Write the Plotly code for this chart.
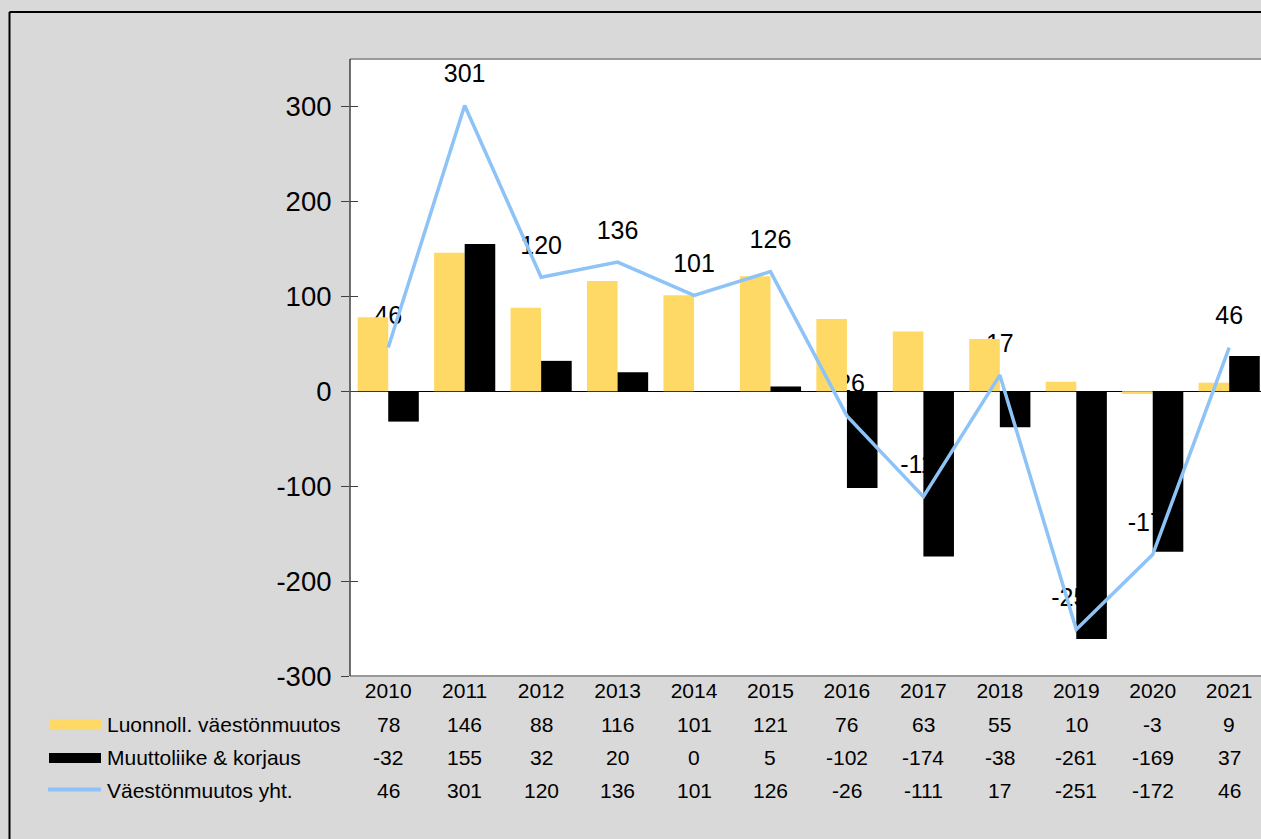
import plotly.graph_objects as go

years = ["2010", "2011", "2012", "2013", "2014", "2015", "2016", "2017", "2018", "2019", "2020", "2021"]
luonnoll = [78, 146, 88, 116, 101, 121, 76, 63, 55, 10, -3, 9]
muutto = [-32, 155, 32, 20, 0, 5, -102, -174, -38, -261, -169, 37]
yht = [46, 301, 120, 136, 101, 126, -26, -111, 17, -251, -172, 46]
series_names = ["Luonnoll. väestönmuutos", "Muuttoliike & korjaus", "Väestönmuutos yht."]
ytick_vals = [-300, -200, -100, 0, 100, 200, 300]
ytick_text = ["-300", "-200", "-100", "0", "100", "200", "300"]

YELLOW = "#FFD966"
BLACK = "#000000"
BLUE = "#8DC3F7"
BG = "#D9D9D9"
FONT = "Liberation Sans, Arial, sans-serif"

W, H = 1300, 839
ML, MR, MT, MB = 350, 0, 59, 163
PW = W - ML - MR
PH = H - MT - MB
CAT_STEP = 76.45  # pixel spacing of categories in the reference


def px_x(p):
    return (p - ML) / PW


def px_y(p):
    return (H - MB - p) / PH


fig = go.Figure()

# data labels of the total line, drawn underneath the bars (base subplot)
fig.add_trace(go.Scatter(
    x=years, y=yht, mode="markers+text", text=[str(v) for v in yht],
    textposition="top center", textfont=dict(size=25, color="black", family=FONT),
    marker=dict(size=26, color="rgba(0,0,0,0)"), hoverinfo="skip", showlegend=False,
    xaxis="x", yaxis="y"))

fig.add_trace(go.Bar(x=years, y=luonnoll, name=series_names[0], marker=dict(color=YELLOW, line=dict(width=0)),
                     xaxis="x2", yaxis="y2", showlegend=False))
fig.add_trace(go.Bar(x=years, y=muutto, name=series_names[1], marker=dict(color=BLACK, line=dict(width=0)),
                     xaxis="x2", yaxis="y2", showlegend=False))
fig.add_trace(go.Scatter(x=years, y=yht, name=series_names[2], mode="lines",
                         line=dict(color=BLUE, width=3.5), xaxis="x2", yaxis="y2", showlegend=False))

xr = [-0.5, -0.5 + PW / CAT_STEP]
yr = [-300, 350]

RIGHT = 1.0
shapes = [
    dict(type="line", xref="paper", yref="paper", x0=px_x(9.5), x1=px_x(9.5), y0=px_y(839), y1=px_y(12),
         line=dict(color="black", width=2), layer="above"),
    dict(type="line", xref="paper", yref="paper", x0=px_x(9.5), x1=RIGHT, y0=px_y(12), y1=px_y(12),
         line=dict(color="black", width=2), layer="above"),
    dict(type="line", xref="paper", yref="paper", x0=0, x1=RIGHT, y0=1, y1=1,
         line=dict(color="#9A9A9A", width=2), layer="above"),
    dict(type="line", xref="paper", yref="paper", x0=0, x1=RIGHT, y0=0, y1=0,
         line=dict(color="#9A9A9A", width=2), layer="above"),
    dict(type="line", xref="paper", yref="paper", x0=0, x1=0, y0=0, y1=1,
         line=dict(color="#404040", width=1.5), layer="above"),
    dict(type="rect", xref="paper", yref="paper", x0=px_x(49), x1=px_x(101), y0=px_y(730), y1=px_y(719),
         fillcolor=YELLOW, line=dict(width=0)),
    dict(type="rect", xref="paper", yref="paper", x0=px_x(49), x1=px_x(101), y0=px_y(763), y1=px_y(753),
         fillcolor=BLACK, line=dict(width=0)),
    dict(type="line", xref="paper", yref="paper", x0=px_x(48), x1=px_x(101), y0=px_y(789.5), y1=px_y(789.5),
         line=dict(color=BLUE, width=4)),
]

annotations = []
row_y = [724.5, 757.5, 790]
for name, ry in zip(series_names, row_y):
    annotations.append(dict(text=name, xref="paper", yref="paper", x=px_x(105), y=px_y(ry),
                            xanchor="left", yanchor="middle", showarrow=False,
                            font=dict(size=21, color="black", family=FONT)))
for vals, ry in zip([luonnoll, muutto, yht], row_y):
    for i, v in enumerate(vals):
        annotations.append(dict(text=str(v), xref="x", yref="paper", x=i, y=px_y(ry),
                                xanchor="center", yanchor="middle", showarrow=False,
                                font=dict(size=21, color="black", family=FONT)))

fig.update_layout(
    width=W, height=H,
    margin=dict(l=ML, r=MR, t=MT, b=MB, pad=0),
    paper_bgcolor=BG, plot_bgcolor="white",
    barmode="group", bargap=0.2, bargroupgap=0,
    font=dict(family=FONT, color="black"),
    hovermode=False,
    xaxis=dict(type="category", range=xr, showgrid=False, zeroline=False, showline=False,
               ticks="", tickfont=dict(size=21, color="black", family=FONT), fixedrange=True),
    yaxis=dict(range=yr, tickvals=ytick_vals, ticktext=ytick_text, showgrid=False, zeroline=True,
               zerolinecolor="black", zerolinewidth=1, showline=False, ticks="outside", ticklen=8,
               tickcolor="#404040", tickwidth=1, tickfont=dict(size=27.5, color="black", family=FONT),
               ticklabelstandoff=4),
    xaxis2=dict(type="category", range=xr, overlaying="x", matches="x", visible=False),
    yaxis2=dict(range=yr, tickvals=ytick_vals, overlaying="y", side="left", showgrid=False,
                zeroline=False, showline=False, ticks="inside", ticklen=8, tickcolor="#404040",
                tickwidth=1, showticklabels=False),
    shapes=shapes,
    annotations=annotations,
)

fig.write_html("out.html", config={"displayModeBar": False},
               post_script="document.documentElement.style.overflow='hidden';"
                           "document.body.style.margin='0px';document.body.style.overflow='hidden';")
